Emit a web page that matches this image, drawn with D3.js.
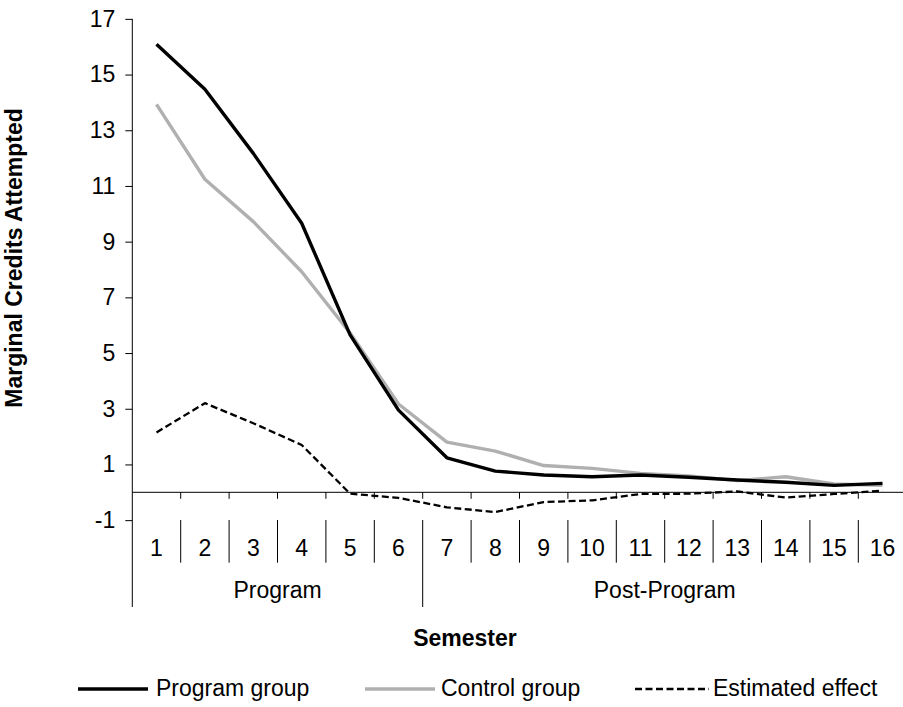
<!DOCTYPE html>
<html>
<head>
<meta charset="utf-8">
<script src="https://cdn.jsdelivr.net/npm/d3@7/dist/d3.min.js"></script>
<style>
  html, body { margin: 0; padding: 0; background: #fff; }
  svg { display: block; font-family: "Liberation Sans", Arial, sans-serif; }
</style>
</head>
<body>
<svg id="chart" width="903" height="707"></svg>
<script>
const semesters = ["1","2","3","4","5","6","7","8","9","10","11","12","13","14","15","16"];
const groups = [
  { name: "Program", from: 0, to: 5 },
  { name: "Post-Program", from: 6, to: 15 }
];
const programGroup = [16.09, 14.47, 12.17, 9.66, 5.65, 2.95, 1.24, 0.76, 0.62, 0.56, 0.62, 0.54, 0.44, 0.36, 0.25, 0.32];
const controlGroup = [13.93, 11.24, 9.72, 7.92, 5.72, 3.17, 1.80, 1.48, 0.96, 0.86, 0.68, 0.59, 0.42, 0.56, 0.30, 0.25];
const estimatedEffect = [2.15, 3.20, 2.48, 1.70, -0.05, -0.20, -0.54, -0.71, -0.35, -0.29, -0.06, -0.05, 0.03, -0.19, -0.06, 0.06];
const yTicks = [-1, 1, 3, 5, 7, 9, 11, 13, 15, 17];
const seriesNames = ["Program group", "Control group", "Estimated effect"];

const svg = d3.select("#chart");
const FS = 23;
const left = 132.3, bandW = 48.4;
const x = d3.scaleBand().domain(semesters).range([left, left + bandW * semesters.length]).paddingInner(0).paddingOuter(0);
const y = d3.scaleLinear().domain([-1, 17]).range([520.15, 18.85]);
const axisBottomY = 607;

// Y axis
const yAxis = d3.axisLeft(y).tickValues(yTicks).tickSize(7).tickSizeOuter(0).tickPadding(10).tickFormat(d => String(d));
const gy = svg.append("g").attr("transform", `translate(${left},0)`).call(yAxis);
gy.select(".domain").remove();
gy.selectAll(".tick line").attr("stroke", "#000");
gy.selectAll(".tick text").attr("font-size", FS).attr("fill", "#000").attr("font-family", '"Liberation Sans", Arial, sans-serif');
svg.append("line").attr("x1", left).attr("x2", left).attr("y1", y(17)).attr("y2", axisBottomY)
  .attr("stroke", "#000").attr("stroke-width", 1);

// Zero line (category axis)
const xEnd = x.range()[1];
svg.append("line").attr("x1", left).attr("x2", xEnd).attr("y1", y(0)).attr("y2", y(0))
  .attr("stroke", "#000").attr("stroke-width", 1);
semesters.slice(1).forEach(s => {
  svg.append("line").attr("x1", x(s)).attr("x2", x(s)).attr("y1", y(0)).attr("y2", y(0) + 6.5)
    .attr("stroke", "#000").attr("stroke-width", 1);
});
// category label separators
const sepTop = 520, sepBot = 562.7;
semesters.slice(1).forEach((s, i) => {
  const isGroupEdge = groups.some(g => g.from === i + 1);
  svg.append("line").attr("x1", x(s)).attr("x2", x(s)).attr("y1", sepTop).attr("y2", isGroupEdge ? axisBottomY : sepBot)
    .attr("stroke", "#000").attr("stroke-width", 1);
});
svg.append("line").attr("x1", xEnd).attr("x2", xEnd).attr("y1", sepTop).attr("y2", axisBottomY)
  .attr("stroke", "#000").attr("stroke-width", 1);
// category labels
svg.append("g").selectAll("text").data(semesters).join("text")
  .attr("x", d => x(d) + x.bandwidth() / 2).attr("y", 556)
  .attr("text-anchor", "middle").attr("font-size", FS).attr("fill", "#000").text(d => d);
// group labels
svg.append("g").selectAll("text").data(groups).join("text")
  .attr("x", g => (x(semesters[g.from]) + x(semesters[g.to]) + x.bandwidth()) / 2).attr("y", 598)
  .attr("text-anchor", "middle").attr("font-size", FS).attr("fill", "#000").text(g => g.name);

// Axis titles
svg.append("text").attr("x", 465).attr("y", 646).attr("text-anchor", "middle")
  .attr("font-size", FS).attr("font-weight", "bold").attr("fill", "#000").text("Semester");
svg.append("text").attr("transform", "translate(22,258) rotate(-90)").attr("text-anchor", "middle")
  .attr("font-size", FS).attr("font-weight", "bold").attr("fill", "#000").text("Marginal Credits Attempted");

// Lines
const cx = i => x(semesters[i]) + x.bandwidth() / 2;
const line = d3.line().x((d, i) => cx(i)).y(d => y(d));
const styles = [
  { data: programGroup, stroke: "#000", width: 3.4, dash: null },
  { data: controlGroup, stroke: "#b0b0b0", width: 3.4, dash: null },
  { data: estimatedEffect, stroke: "#000", width: 2.3, dash: "7,3.5" }
];
[1, 0, 2].forEach(k => {
  const s = styles[k];
  svg.append("path").datum(s.data).attr("d", line)
    .attr("fill", "none").attr("stroke", s.stroke).attr("stroke-width", s.width)
    .attr("stroke-linejoin", "round").attr("stroke-linecap", "butt")
    .attr("stroke-dasharray", s.dash);
});

// Legend
const legendPos = [
  { x1: 78, x2: 148, tx: 156 },
  { x1: 365, x2: 435, tx: 441 },
  { x1: 635, x2: 709, tx: 713 }
];
seriesNames.forEach((n, k) => {
  const s = styles[k], p = legendPos[k];
  svg.append("line").attr("x1", p.x1).attr("x2", p.x2).attr("y1", 689).attr("y2", 689)
    .attr("stroke", s.stroke).attr("stroke-width", s.width).attr("stroke-dasharray", s.dash);
  svg.append("text").attr("x", p.tx).attr("y", 696).attr("font-size", FS).attr("fill", "#000").text(n);
});
</script>
</body>
</html>
